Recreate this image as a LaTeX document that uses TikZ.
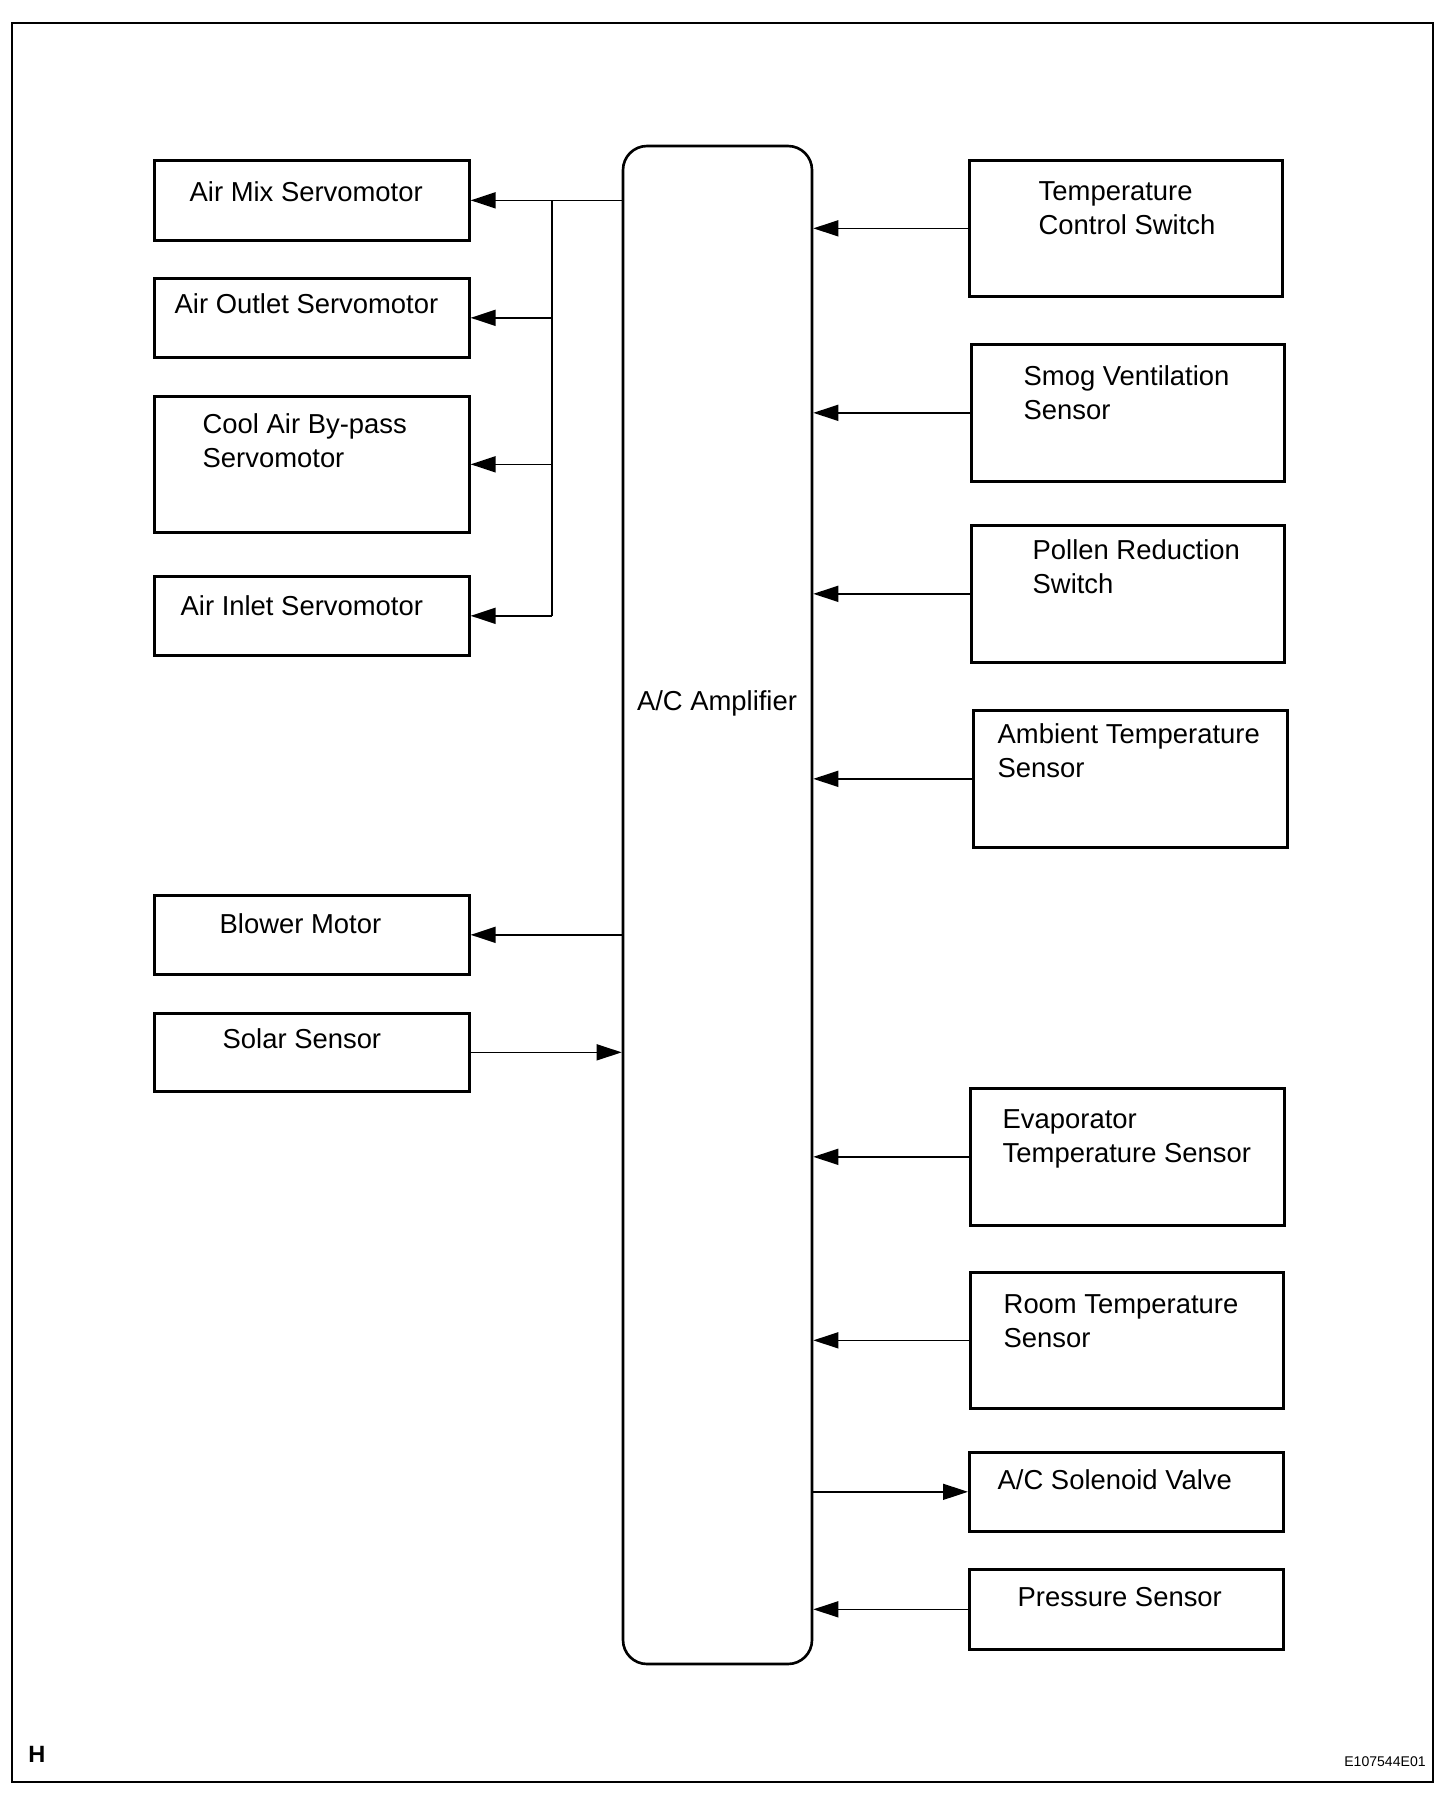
\documentclass[tikz,border=0pt]{standalone}
\usepackage{fontspec}
\setmainfont{Liberation Sans}
\usetikzlibrary{positioning, arrows.meta}

\begin{document}
\begin{tikzpicture}[
    box/.style={rectangle, draw, line width=0.75pt, anchor=north west, inner sep=0pt},
    amp/.style={rectangle, draw, line width=0.75pt, rounded corners=0.24cm, inner sep=0pt,
                minimum width=1.89cm, minimum height=15.18cm},
    lbl/.style={inner sep=0pt, align=left, font=\fontsize{7.8}{9.6}\selectfont},
    link/.style={line width=0.45pt},
    arrow/.style={link, -{Triangle[length=0.25cm, width=0.16cm]}}
]
\useasboundingbox (0,0) rectangle (14.56,-17.94);

% Frame
\draw[line width=0.75pt] (0.12,-0.23) rectangle (14.33,-17.82);

% Amplifier
\node[amp] (amp) at (7.175,-9.05) {};
\node[lbl] (ampt) at (7.17,-7.03) {A/C Amplifier};

% Left column
\node[box, minimum width=3.15cm, minimum height=0.80cm] (amix) at (1.53,-1.59) {};
\node[box, minimum width=3.15cm, minimum height=0.79cm] (aout) at (1.53,-2.77) {};
\node[box, minimum width=3.15cm, minimum height=1.36cm] (cab) at (1.53,-3.95) {};
\node[box, minimum width=3.15cm, minimum height=0.79cm] (ainl) at (1.53,-5.75) {};
\node[box, minimum width=3.15cm, minimum height=0.79cm] (blow) at (1.53,-8.94) {};
\node[box, minimum width=3.15cm, minimum height=0.78cm] (solar) at (1.53,-10.12) {};

\node[lbl, below right=0.22cm and 0.36cm of amix.north west] (amixt) {Air Mix Servomotor};
\node[lbl, below right=0.16cm and 0.21cm of aout.north west] (aoutt) {Air Outlet Servomotor};
\node[lbl, below right=0.18cm and 0.49cm of cab.north west] (cabt) {Cool Air By-pass\\Servomotor};
\node[lbl, below right=0.20cm and 0.27cm of ainl.north west] (ainlt) {Air Inlet Servomotor};
\node[lbl, below right=0.19cm and 0.66cm of blow.north west] (blowt) {Blower Motor};
\node[lbl, below right=0.16cm and 0.69cm of solar.north west] (solart) {Solar Sensor};

% Right column
\node[box, minimum width=3.13cm, minimum height=1.36cm] (tcs) at (9.68,-1.59) {};
\node[box, minimum width=3.13cm, minimum height=1.37cm] (smog) at (9.70,-3.43) {};
\node[box, minimum width=3.13cm, minimum height=1.37cm] (pollen) at (9.70,-5.24) {};
\node[box, minimum width=3.14cm, minimum height=1.37cm] (amb) at (9.72,-7.09) {};
\node[box, minimum width=3.14cm, minimum height=1.37cm] (evap) at (9.69,-10.87) {};
\node[box, minimum width=3.13cm, minimum height=1.36cm] (room) at (9.69,-12.71) {};
\node[box, minimum width=3.14cm, minimum height=0.79cm] (sol) at (9.68,-14.51) {};
\node[box, minimum width=3.14cm, minimum height=0.80cm] (pres) at (9.68,-15.68) {};

\node[lbl, below right=0.22cm and 0.70cm of tcs.north west] (tcst) {Temperature\\Control Switch};
\node[lbl, below right=0.22cm and 0.53cm of smog.north west] (smogt) {Smog Ventilation\\Sensor};
\node[lbl, below right=0.15cm and 0.62cm of pollen.north west] (pollent) {Pollen Reduction\\Switch};
\node[lbl, below right=0.14cm and 0.25cm of amb.north west] (ambt) {Ambient Temperature\\Sensor};
\node[lbl, below right=0.22cm and 0.33cm of evap.north west] (evapt) {Evaporator\\Temperature Sensor};
\node[lbl, below right=0.23cm and 0.34cm of room.north west] (roomt) {Room Temperature\\Sensor};
\node[lbl, below right=0.18cm and 0.29cm of sol.north west] (solt) {A/C Solenoid Valve};
\node[lbl, below right=0.19cm and 0.49cm of pres.north west] (prest) {Pressure Sensor};

% Marks
\node[font=\bfseries\fontsize{6.7}{8}\selectfont, inner sep=0pt] (hmark) at (0.37,-17.54) {H};
\node[font=\fontsize{4}{5}\selectfont, inner sep=0pt] (fignum) at (13.85,-17.62) {E107544E01};

% Outputs to servomotors
\coordinate (bus) at (5.52,0);
\draw[arrow] (amp.west |- amix.east) -- (amix.east);
\draw[link, line width=0.7pt] (bus |- amix.east) -- (bus |- ainl.east);
\draw[arrow] (bus |- aout.east) -- (aout.east);
\draw[arrow] (bus |- cab.east) -- (cab.east);
\draw[arrow] (bus |- ainl.east) -- (ainl.east);

\draw[arrow] (amp.west |- blow.east) -- (blow.east);
\draw[arrow] (solar.east) -- (amp.west |- solar.east);

% Inputs from right
\draw[arrow] (tcs.west) -- (amp.east |- tcs.west);
\draw[arrow] (smog.west) -- (amp.east |- smog.west);
\draw[arrow] (pollen.west) -- (amp.east |- pollen.west);
\draw[arrow] (amb.west) -- (amp.east |- amb.west);
\draw[arrow] (evap.west) -- (amp.east |- evap.west);
\draw[arrow] (room.west) -- (amp.east |- room.west);
\draw[arrow] (amp.east |- sol.west) -- (sol.west);
\draw[arrow] (pres.west) -- (amp.east |- pres.west);

\end{tikzpicture}
\end{document}
